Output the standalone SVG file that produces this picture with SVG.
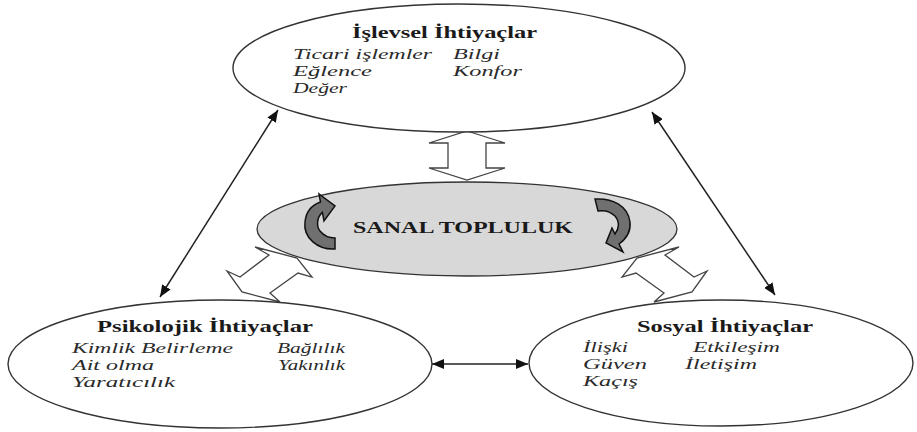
<svg xmlns="http://www.w3.org/2000/svg" width="917" height="432" viewBox="0 0 917 432">
<defs>
<marker id="ah" viewBox="0 0 12 10" refX="12" refY="5" markerWidth="12" markerHeight="10" markerUnits="userSpaceOnUse" orient="auto-start-reverse">
<path d="M0,0 L12,5 L0,10 z" fill="#111"/>
</marker>
<style>
.ell{fill:#fff;stroke:#333;stroke-width:1.4}
.mid{fill:#d8d8d8;stroke:#333;stroke-width:1.3}
.blk{fill:#fff;stroke:#444;stroke-width:1.3;stroke-linejoin:miter}
.ln{stroke:#222;stroke-width:1.5;fill:none}
.curl{fill:#707070;stroke:#111;stroke-width:1.5}
.t{font-family:"Liberation Serif","Times New Roman",serif;font-weight:bold;font-size:17px;fill:#1a1a1a}
.i{font-family:"Liberation Serif","Times New Roman",serif;font-style:italic;font-size:15px;fill:#2a2a2a}
.s{font-family:"Liberation Serif","Times New Roman",serif;font-weight:bold;font-size:16px;fill:#1a1a1a}
</style>
</defs>
<rect width="917" height="432" fill="#fff"/>
<g id="connectors">
<polygon class="blk" points="467,131 505,143 486,143 486,168 505,168 467,180 429,168 448,168 448,143 429,143"/>
<polygon class="blk" points="255,247 269,255 240,277 227,271 242,292 280,302 270,293 298,273 312,277 297,258"/>
<polygon class="blk" points="679,247 665,255 694,277 707,271 692,292 654,302 664,293 636,273 622,277 637,258"/>
<line class="ln" x1="278" y1="110" x2="160" y2="297" marker-start="url(#ah)" marker-end="url(#ah)"/>
<line class="ln" x1="652" y1="112" x2="775" y2="295" marker-start="url(#ah)" marker-end="url(#ah)"/>
<line class="ln" x1="432" y1="364" x2="528" y2="364" marker-start="url(#ah)" marker-end="url(#ah)"/>
</g>
<g id="node-islevsel">
<ellipse class="ell" cx="459" cy="68" rx="226" ry="64"/>
<text class="t" x="352" y="38" textLength="185" lengthAdjust="spacingAndGlyphs">İşlevsel İhtiyaçlar</text>
<text class="i" x="293" y="59" textLength="139" lengthAdjust="spacingAndGlyphs">Ticari işlemler</text>
<text class="i" x="453" y="59" textLength="47" lengthAdjust="spacingAndGlyphs">Bilgi</text>
<text class="i" x="293" y="76" textLength="79" lengthAdjust="spacingAndGlyphs">Eğlence</text>
<text class="i" x="453" y="76" textLength="69" lengthAdjust="spacingAndGlyphs">Konfor</text>
<text class="i" x="293" y="93" textLength="54" lengthAdjust="spacingAndGlyphs">Değer</text>
</g>
<g id="node-sanal">
<ellipse class="mid" cx="467" cy="229" rx="210" ry="47"/>
<path class="curl" d="M335,249 C318,250 303,238 305,222 C306,212 312,205 320.5,202 L319,194 L335,206 L324,221 L322.4,212.4 C317,217 316,226 320,231 C324,236 329,238 335,238 Z"/>
<path class="curl" d="M595,199 C613,198 628,206 630,222 C631,232 626,239 619,244 L623,252 L606,243 L612,228 L615,234 C619,229 620,222 615,216 C610,211 604,210 598,211 Z"/>
<text class="s" x="353" y="233" textLength="220" lengthAdjust="spacingAndGlyphs">SANAL TOPLULUK</text>
</g>
<g id="node-psikolojik">
<ellipse class="ell" cx="220" cy="364" rx="212" ry="64"/>
<text class="t" x="97" y="332" textLength="216" lengthAdjust="spacingAndGlyphs">Psikolojik İhtiyaçlar</text>
<text class="i" x="72" y="353" textLength="161" lengthAdjust="spacingAndGlyphs">Kimlik Belirleme</text>
<text class="i" x="277" y="353" textLength="68" lengthAdjust="spacingAndGlyphs">Bağlılık</text>
<text class="i" x="72" y="370" textLength="82" lengthAdjust="spacingAndGlyphs">Ait olma</text>
<text class="i" x="278" y="370" textLength="67" lengthAdjust="spacingAndGlyphs">Yakınlık</text>
<text class="i" x="72" y="387" textLength="103" lengthAdjust="spacingAndGlyphs">Yaratıcılık</text>
</g>
<g id="node-sosyal">
<ellipse class="ell" cx="721" cy="363" rx="192" ry="63"/>
<text class="t" x="637" y="332" textLength="176" lengthAdjust="spacingAndGlyphs">Sosyal İhtiyaçlar</text>
<text class="i" x="583" y="352" textLength="45" lengthAdjust="spacingAndGlyphs">İlişki</text>
<text class="i" x="693" y="352" textLength="87" lengthAdjust="spacingAndGlyphs">Etkileşim</text>
<text class="i" x="583" y="369" textLength="64" lengthAdjust="spacingAndGlyphs">Güven</text>
<text class="i" x="685" y="369" textLength="72" lengthAdjust="spacingAndGlyphs">İletişim</text>
<text class="i" x="583" y="386" textLength="55" lengthAdjust="spacingAndGlyphs">Kaçış</text>
</g>
</svg>
